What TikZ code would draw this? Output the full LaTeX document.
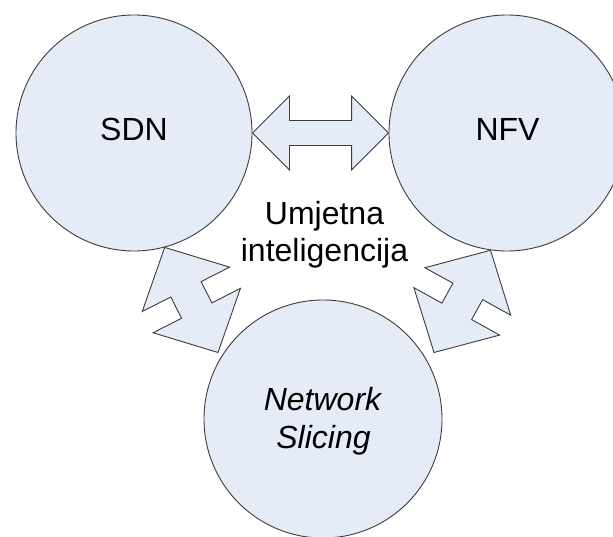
\documentclass[tikz,border=0pt]{standalone}
\usepackage{fontspec}
\setmainfont{Liberation Sans}
\usetikzlibrary{calc}
\definecolor{fillc}{RGB}{229,235,247}
\definecolor{linec}{RGB}{60,60,60}
% double block arrow between two named coordinates: #1 #2 tips, #3 head length, #4 head half-width, #5 shaft half-width
\newcommand{\dblarrow}[5]{%
  \draw[arr] (#1)
   -- ($(#1)!#3!(#2)!#4!90:(#2)$)
   -- ($(#1)!#3!(#2)!#5!90:(#2)$)
   -- ($(#2)!#3!(#1)!#5!-90:(#1)$)
   -- ($(#2)!#3!(#1)!#4!-90:(#1)$)
   -- (#2)
   -- ($(#2)!#3!(#1)!#4!90:(#1)$)
   -- ($(#2)!#3!(#1)!#5!90:(#1)$)
   -- ($(#1)!#3!(#2)!#5!-90:(#2)$)
   -- ($(#1)!#3!(#2)!#4!-90:(#2)$)
   -- cycle;}
\begin{document}
\begin{tikzpicture}[x=1pt,y=-1pt,
  circ/.style={circle, draw=linec, fill=fillc, line width=0.9pt, minimum size=236pt, inner sep=0pt},
  arr/.style={draw=linec, fill=fillc, line width=0.9pt, line join=miter},
  lbl/.style={font=\fontsize{32}{37}\selectfont, inner sep=0pt, anchor=base}]
\useasboundingbox (0,0) rectangle (613,537);
\node[circ] (sdn) at (134,133) {};
\node[circ] (nfv) at (507,133) {};
\node[circ, minimum size=238pt] (ns) at (323,419) {};
% arrow end points
\coordinate (h1) at (sdn.east);
\coordinate (h2) at (nfv.west);
\coordinate (l1) at (sdn.-75.4);
\coordinate (l2) at ($(ns)+(-105,-66.5)$);
\coordinate (r1) at (nfv.-98.2);
\coordinate (r2) at ($(ns)+(111,-66.5)$);
\dblarrow{h1}{h2}{37pt}{37pt}{12.5pt}
\dblarrow{l1}{l2}{47pt}{49pt}{17pt}
\dblarrow{r1}{r2}{47pt}{49pt}{17pt}
% labels
\node[lbl] (tsdn) at (134,140.5) {SDN};
\node[lbl] (tnfv) at (507.5,140.5) {NFV};
\node[lbl] (tai1) at (324.5,225) {Umjetna};
\node[lbl] (tai2) at (324.5,262) {inteligencija};
\node[lbl, font=\fontsize{32}{37}\selectfont\itshape] (tns1) at (322.5,410) {Network};
\node[lbl, font=\fontsize{32}{37}\selectfont\itshape] (tns2) at (323.5,448) {Slicing};
\end{tikzpicture}
\end{document}
